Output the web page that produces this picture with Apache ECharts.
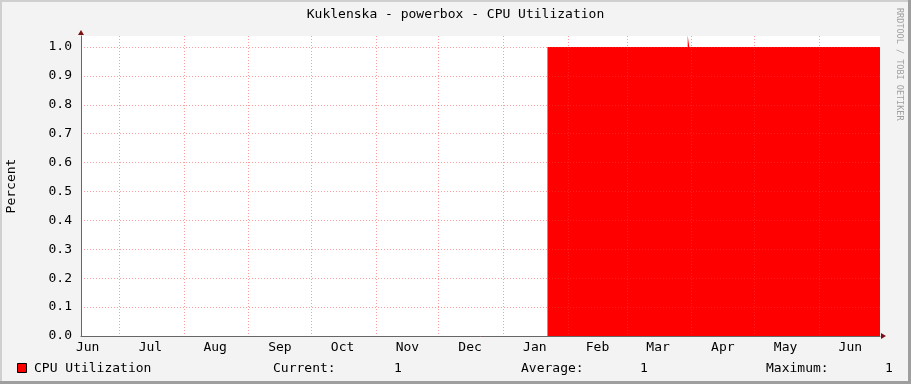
<!DOCTYPE html>
<html>
<head>
<meta charset="utf-8">
<script src="https://cdn.jsdelivr.net/npm/echarts@6/dist/echarts.min.js"></script>
<style>
html,body{margin:0;padding:0;background:#f3f3f3;}
#chart{width:911px;height:384px;}
</style>
</head>
<body>
<div id="chart"></div>
<script>
// ---- data ----
const titleText = 'Kuklenska - powerbox - CPU Utilization';
const seriesName = 'CPU Utilization';
const axisStart = '2022-06-12T19:00:00';
const axisEnd = '2023-06-30T05:00:00';
// each sample holds its value from its time until the next sample's time
const sampleTimes = ['2023-01-22T01:00:00','2023-02-02T00:00:00','2023-02-02T20:00:00','2023-03-01T00:00:00','2023-03-01T20:00:00','2023-03-30T04:00:00','2023-03-30T22:00:00','2023-04-02T00:00:00','2023-04-02T20:00:00','2023-05-02T00:00:00','2023-05-02T20:00:00','2023-06-02T00:00:00','2023-06-02T20:00:00','2023-06-16T00:00:00','2023-06-16T20:00:00'];
const sampleValues = [1, 1.005, 1, 1.005, 1, 1.04, 1, 1.005, 1, 1.005, 1, 1.005, 1, 1.005, 1];
const monthStarts = ['2022-07-01','2022-08-01','2022-09-01','2022-10-01','2022-11-01','2022-12-01','2023-01-01','2023-02-01','2023-03-01','2023-04-01','2023-05-01','2023-06-01'];
const monthLabelDates = ['2022-06-16','2022-07-16','2022-08-16','2022-09-16','2022-10-16','2022-11-16','2022-12-16','2023-01-16','2023-02-15','2023-03-16','2023-04-16','2023-05-16','2023-06-16'];
const monthNames = ['Jan','Feb','Mar','Apr','May','Jun','Jul','Aug','Sep','Oct','Nov','Dec'];
const yTicks = [0, 0.1, 0.2, 0.3, 0.4, 0.5, 0.6, 0.7, 0.8, 0.9, 1.0];
const yMax = 1.038;
const legendStats = {current: 1, average: 1, maximum: 1};

// ---- build ----
const ts = s => new Date(s + (s.length === 10 ? 'T00:00:00' : '')).getTime();
const endTs = ts(axisEnd);
const seriesData = [];
sampleTimes.forEach((t, i) => {
  const t0 = ts(t);
  const t1 = i + 1 < sampleTimes.length ? ts(sampleTimes[i + 1]) : endTs;
  seriesData.push([t0, sampleValues[i]], [t1, sampleValues[i]]);
});
const mono = '"DejaVu Sans Mono", monospace';
const gridLeft = 81, gridTop = 36, gridRight = 31, gridBottom = 48;
const W = 911, H = 384;
const plotRight = W - gridRight, plotBottom = H - gridBottom;
const gridColor = 'rgba(255,60,60,0.5)';

const chart = echarts.init(document.getElementById('chart'), null, {renderer: 'canvas'});
chart.setOption({
  backgroundColor: '#f3f3f3',
  animation: false,
  title: {
    text: titleText, left: 'center', top: 3,
    textStyle: {fontFamily: mono, fontSize: 13, fontWeight: 'normal', color: '#000'}
  },
  grid: {
    left: gridLeft, right: gridRight, top: gridTop, bottom: gridBottom,
    containLabel: false, outerBoundsMode: 'none',
    show: true, backgroundColor: '#ffffff', borderWidth: 0, z: -2
  },
  xAxis: {
    type: 'value', min: ts(axisStart), max: endTs, scale: true,
    axisLine: {show: true, lineStyle: {color: '#666', width: 1}},
    axisTick: {show: false, customValues: monthStarts.map(ts)},
    axisLabel: {
      customValues: monthLabelDates.map(ts),
      formatter: v => monthNames[new Date(v).getMonth()],
      fontFamily: mono, fontSize: 13, color: '#000', margin: 5, hideOverlap: false
    },
    splitLine: {show: true, lineStyle: {color: gridColor, type: [1, 2], width: 1}}
  },
  yAxis: {
    type: 'value', min: 0, max: yMax,
    name: 'Percent', nameLocation: 'middle', nameGap: 63, nameRotate: 90,
    nameTextStyle: {fontFamily: mono, fontSize: 13, color: '#000'},
    axisLine: {show: true, lineStyle: {color: '#666', width: 1}},
    axisTick: {show: false, customValues: yTicks},
    axisLabel: {
      customValues: yTicks,
      formatter: v => v.toFixed(1),
      fontFamily: mono, fontSize: 13, color: '#000', margin: 9
    },
    splitLine: {show: true, lineStyle: {color: gridColor, type: [1, 2], width: 1}}
  },
  series: [{
    name: seriesName, type: 'line', z: -1,
    data: seriesData, showSymbol: false, clip: true,
    lineStyle: {width: 0, color: '#ff0000'},
    areaStyle: {color: '#ff0000', opacity: 1}
  }],
  graphic: [
    {type: 'polygon', shape: {points: [[gridLeft - 3, gridTop - 1], [gridLeft + 3, gridTop - 1], [gridLeft, gridTop - 6]]}, style: {fill: '#7f1010'}, z: 10},
    {type: 'polygon', shape: {points: [[plotRight + 1, plotBottom - 3], [plotRight + 1, plotBottom + 3], [plotRight + 6, plotBottom]]}, style: {fill: '#7f1010'}, z: 10},
    {type: 'rect', shape: {x: 17.5, y: 363.5, width: 9, height: 9}, style: {fill: '#ff0000', stroke: '#000', lineWidth: 1}, z: 10},
    {type: 'text', left: 34, top: 362, style: {text: seriesName, font: '13px ' + mono, fill: '#000'}, z: 10},
    {type: 'text', left: 273, top: 362, style: {text: 'Current:', font: '13px ' + mono, fill: '#000'}, z: 10},
    {type: 'text', left: 394, top: 362, style: {text: String(legendStats.current), font: '13px ' + mono, fill: '#000'}, z: 10},
    {type: 'text', left: 521, top: 362, style: {text: 'Average:', font: '13px ' + mono, fill: '#000'}, z: 10},
    {type: 'text', left: 640, top: 362, style: {text: String(legendStats.average), font: '13px ' + mono, fill: '#000'}, z: 10},
    {type: 'text', left: 766, top: 362, style: {text: 'Maximum:', font: '13px ' + mono, fill: '#000'}, z: 10},
    {type: 'text', left: 885, top: 362, style: {text: String(legendStats.maximum), font: '13px ' + mono, fill: '#000'}, z: 10},
    {type: 'text', x: 904, y: 8, rotation: -Math.PI / 2, style: {text: 'RRDTOOL / TOBI OETIKER', font: '8.5px ' + mono, fill: '#a0a0a0', verticalAlign: 'top'}, z: 10},
    {type: 'rect', shape: {x: 0, y: 0, width: W, height: 2}, style: {fill: '#cfcfcf'}, z: 20},
    {type: 'rect', shape: {x: 0, y: 0, width: 2, height: H}, style: {fill: '#cfcfcf'}, z: 20},
    {type: 'rect', shape: {x: W - 3, y: 0, width: 3, height: H}, style: {fill: '#9e9e9e'}, z: 21},
    {type: 'rect', shape: {x: 0, y: H - 3, width: W, height: 3}, style: {fill: '#9e9e9e'}, z: 21}
  ]
});
</script>
</body>
</html>
